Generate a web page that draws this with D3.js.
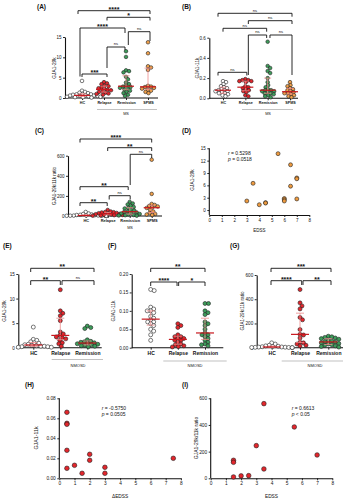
<!DOCTYPE html>
<html>
<head>
<meta charset="utf-8">
<script src="https://cdn.jsdelivr.net/npm/d3@7"></script>
<style>
  body { margin: 0; background: #fff; }
  text { font-family: "Liberation Sans", Arial, sans-serif; fill: #111; }
</style>
</head>
<body>
<script>
// ---------- data ----------
var msGroups = ["HC", "Relapse", "Remission", "SPMS"];
var nmoGroups = ["HC", "Relapse", "Remission"];

// (A) GJA1-29k, MS
var aHC = [4.2, 1.8, 1.5, 1.3, 1.2, 1.0, 0.9, 0.9, 0.8, 0.7, 0.6, 0.6, 0.5, 0.5, 0.4, 0.3, 0.3, 0.2, 0.2, 0.1];
var aRelapse = [3.9, 3.6, 3.4, 3.0, 2.9, 2.6, 2.4, 2.2, 2.0, 1.9, 1.6, 1.5, 1.3, 1.1, 1.0, 0.8];
var aRemission = [11.5, 10.1, 6.8, 6.6, 6.3, 5.2, 4.6, 3.8, 3.4, 3.0, 2.8, 2.7, 2.5, 2.3, 2.1, 1.8, 1.5, 1.2, 0.8, 0.5];
var aSPMS = [13.7, 11.0, 7.8, 7.5, 6.9, 3.0, 2.8, 2.7, 2.5, 2.3, 2.0, 1.8, 1.5, 1.2];

// (B) GJA1-11k, MS
var bHC = [0.17, 0.16, 0.14, 0.12, 0.11, 0.10, 0.09, 0.08, 0.08, 0.07, 0.07, 0.06, 0.05, 0.05, 0.04, 0.03, 0.02];
var bRelapse = [0.19, 0.18, 0.18, 0.17, 0.17, 0.16, 0.12, 0.11, 0.10, 0.09, 0.08, 0.07, 0.06, 0.03, 0.02];
var bRemission = [0.56, 0.32, 0.30, 0.27, 0.25, 0.20, 0.16, 0.13, 0.11, 0.09, 0.08, 0.08, 0.07, 0.07, 0.06, 0.05, 0.05, 0.04, 0.03, 0.02, 0.01];
var bSPMS = [0.16, 0.13, 0.12, 0.10, 0.09, 0.08, 0.07, 0.06, 0.05, 0.05, 0.04, 0.03, 0.02, 0.01];

// (C) GJA1-29k/11k ratio, MS
var cHC = [40, 25, 20, 15, 12, 10, 8, 6, 5, 4, 3, 3, 2, 2, 1, 1, 1];
var cRelapse = [60, 45, 40, 38, 35, 30, 28, 25, 20, 18, 15, 12, 10, 8, 5, 3];
var cRemission = [140, 125, 115, 100, 90, 80, 75, 60, 55, 45, 40, 35, 30, 25, 20, 15, 10, 8, 5, 3];
var cSPMS = [560, 220, 120, 110, 100, 95, 85, 80, 60, 45, 30, 20, 15, 10];

// (D) EDSS vs GJA1-29k (SPMS)
var dEDSS = [3, 3.5, 4, 4.5, 4.5, 5.5, 6, 6, 6, 6.5, 6.5, 7, 7, 7];
var dGJA29 = [2.2, 6.5, 1.3, 1.8, 1.7, 13.7, 2.8, 2.5, 2.2, 11.0, 5.8, 7.8, 7.6, 2.7];

// (E) GJA1-29k, NMOSD
var eHC = [4.2, 1.7, 1.5, 1.2, 1.0, 0.9, 0.7, 0.6, 0.5, 0.4, 0.3, 0.3, 0.2, 0.2, 0.1, 0.1];
var eRelapse = [11.8, 7.5, 7.0, 6.5, 5.5, 3.2, 2.8, 2.5, 2.2, 2.0, 1.8, 1.5, 1.0, 0.8, 0.3];
var eRemission = [4.4, 4.1, 3.9, 1.6, 1.3, 1.2, 1.1, 1.0, 0.9, 0.8, 0.7, 0.6, 0.5, 0.4, 0.3, 0.2];

// (F) GJA1-11k, NMOSD
var fHC = [0.158, 0.155, 0.11, 0.105, 0.10, 0.10, 0.095, 0.085, 0.08, 0.075, 0.07, 0.07, 0.065, 0.06, 0.05, 0.045, 0.035, 0.02];
var fRelapse = [0.065, 0.06, 0.055, 0.035, 0.03, 0.03, 0.025, 0.025, 0.02, 0.02, 0.015, 0.01, 0.008, 0.005, 0.003, 0.002];
var fRemission = [0.12, 0.12, 0.10, 0.095, 0.09, 0.07, 0.065, 0.06, 0.05, 0.04, 0.035, 0.035, 0.03, 0.025, 0.02, 0.015, 0.01, 0.008, 0.005];

// (G) GJA1-29k/11k ratio, NMOSD
var gHC = [40, 30, 20, 15, 12, 10, 8, 6, 5, 4, 3, 2, 2, 1, 1];
var gRelapse = [480, 370, 345, 320, 250, 230, 150, 110, 105, 80, 45, 40, 30, 20, 15];
var gRemission = [95, 90, 85, 80, 75, 70, 60, 55, 50, 45, 40, 35, 30, 25, 20, 15, 10, 5];

// (H) dEDSS vs GJA1-11k
var hDeltaEDSS = [0.5, 0.5, 0.5, 0.5, 0.5, 1, 1.5, 2, 2, 3, 3, 7.5];
var hGJA11 = [0.066, 0.055, 0.054, 0.028, 0.010, 0.013, 0.005, 0.024, 0.018, 0.011, 0.005, 0.020];

// (I) EDSS vs ratio
var iEDSS = [1.5, 1.5, 1.5, 2, 2.5, 3, 3.5, 3.5, 5.5, 7];
var iRatio = [10, 135, 120, 18, 20, 245, 560, 70, 385, 175];

var scatterTicks = [0, 1, 2, 3, 4, 5, 6, 7, 8];

// ---------- drawing ----------
var svg = d3.select("body").append("svg")
    .attr("width", 343)
    .attr("height", 500);

var fills = { HC: "#ffffff", Relapse: "#e3262c", Remission: "#3d9c5a", SPMS: "#f0a04b" };

// simple deterministic beeswarm (points may overlap a little, like the original)
function swarm(vals, y, cx, r) {
  var pts = [];
  vals.slice().sort(d3.descending).forEach(function(v) {
    var py = y(v), k = 0, ox;
    while (true) {
      ox = (k % 2 ? 1 : -1) * Math.ceil(k / 2) * 0.5;
      var ok = pts.every(function(q) {
        var dx = q.x - (cx + ox), dy = q.y - py;
        return dx * dx + dy * dy >= 4 * r * r * 0.72;
      });
      if (ok || k > 80) break;
      k++;
    }
    pts.push({ x: cx + ox, y: py });
  });
  return pts;
}

function styleAxis(sel, fs) {
  sel.select(".domain").attr("stroke", "#111").attr("stroke-width", 1.1);
  sel.selectAll(".tick line").attr("stroke", "#111").attr("stroke-width", 0.9);
  sel.selectAll(".tick text").attr("font-size", fs).attr("fill", "#222");
}

function label(txt, x, y) {
  svg.append("text").attr("x", x).attr("y", y)
    .attr("font-size", 6.5).attr("font-weight", "bold").text(txt);
}

function yTitle(txt, x, y, fs) {
  svg.append("text")
    .attr("transform", "translate(" + x + "," + y + ") rotate(-90)")
    .attr("text-anchor", "middle").attr("font-size", fs).text(txt);
}

function dotPanel(p) {
  var g = svg.append("g");
  var x = d3.scalePoint().domain(p.groups).range(p.xr);
  var y = d3.scaleLinear().domain([0, p.ymax]).range(p.yr);

  g.append("g").attr("transform", "translate(" + p.ax + ",0)")
    .call(d3.axisLeft(y).tickValues(p.ticks).tickFormat(d3.format(p.fmt)).tickSize(2).tickSizeOuter(0).tickPadding(1.5))
    .call(styleAxis, p.tfs);

  var xa = g.append("g").attr("transform", "translate(0," + p.yr[0] + ")")
    .call(d3.axisBottom(x).tickSize(2).tickSizeOuter(0).tickPadding(1.5))
    .call(styleAxis, p.cfs);
  xa.select(".domain").remove();
  xa.selectAll(".tick text").attr("font-weight", "bold");
  g.append("line").attr("x1", p.ax).attr("x2", p.xend)
    .attr("y1", p.yr[0]).attr("y2", p.yr[0])
    .attr("stroke", "#111").attr("stroke-width", 1.1);

  // group line and label
  if (p.gline) {
    g.append("line").attr("x1", p.gline[0]).attr("x2", p.gline[1])
      .attr("y1", p.gline[2]).attr("y2", p.gline[2])
      .attr("stroke", "#999").attr("stroke-width", 0.6);
  }
  g.append("text").attr("x", p.glabel[0]).attr("y", p.glabel[1])
    .attr("text-anchor", "middle").attr("font-size", p.gfs).text(p.gname);

  // points
  p.groups.forEach(function(grp, i) {
    var cx = x(grp);
    var pts = swarm(p.values[i], y, cx, p.r);
    g.selectAll(null).data(pts).enter().append("circle")
      .attr("cx", function(d) { return d.x; })
      .attr("cy", function(d) { return d.y; })
      .attr("r", p.r)
      .attr("fill", fills[grp])
      .attr("stroke", "#222")
      .attr("stroke-width", 0.6);

    var s = p.values[i].slice().sort(d3.ascending);
    var q1 = d3.quantile(s, 0.25), med = d3.quantile(s, 0.5), q3 = d3.quantile(s, 0.75);
    var c = "#ee8a8a";
    g.append("line").attr("x1", cx).attr("x2", cx).attr("y1", y(q1)).attr("y2", y(q3))
      .attr("stroke", c).attr("stroke-width", 0.8);
    [q1, q3].forEach(function(q) {
      g.append("line").attr("x1", cx - p.cap).attr("x2", cx + p.cap)
        .attr("y1", y(q)).attr("y2", y(q)).attr("stroke", c).attr("stroke-width", 0.8);
    });
    g.append("line").attr("x1", cx - p.mw).attr("x2", cx + p.mw)
      .attr("y1", y(med)).attr("y2", y(med))
      .attr("stroke", "#c8161d").attr("stroke-width", 1.2);
  });

  // significance brackets
  p.brackets.forEach(function(b) {
    var x1 = x(b.a) + (b.d1 || 0), x2 = x(b.b) + (b.d2 || 0);
    g.append("path")
      .attr("d", "M" + x1 + "," + b.l1 + "V" + b.y + "H" + x2 + "V" + b.l2)
      .attr("fill", "none").attr("stroke", "#111").attr("stroke-width", 0.9);
    var ns = b.t === "ns";
    g.append("text").attr("x", (x1 + x2) / 2).attr("y", ns ? b.y - 1.6 : b.y + 0.8)
      .attr("text-anchor", "middle")
      .attr("font-size", ns ? 4.2 : 7)
      .attr("font-weight", ns ? "normal" : "bold")
      .attr("fill", ns ? "#444" : "#111")
      .text(b.t);
  });
}

function scatterPanel(p) {
  var g = svg.append("g");
  var x = d3.scaleLinear().domain([0, 8]).range(p.xr);
  var y = d3.scaleLinear().domain(p.yd).range(p.yr);

  var ya = g.append("g").attr("transform", "translate(" + p.xr[0] + ",0)")
    .call(d3.axisLeft(y).tickValues(p.ticks).tickFormat(d3.format(p.fmt)).tickSize(2).tickSizeOuter(0).tickPadding(1.5))
    .call(styleAxis, p.tfs);
  ya.select(".domain").attr("d", "M0," + p.yr[0] + "V" + y(p.ticks[p.ticks.length - 1]));

  g.append("g").attr("transform", "translate(0," + p.yr[0] + ")")
    .call(d3.axisBottom(x).tickValues(scatterTicks).tickSize(2).tickSizeOuter(0).tickPadding(1.5))
    .call(styleAxis, p.tfs);

  g.append("text").attr("x", (p.xr[0] + p.xr[1]) / 2).attr("y", p.xtitleY)
    .attr("text-anchor", "middle").attr("font-size", p.tfs).text(p.xtitle);

  g.selectAll(null).data(p.xs).enter().append("circle")
    .attr("cx", function(d) { return x(d); })
    .attr("cy", function(d, i) { return y(p.ys[i]); })
    .attr("r", p.r)
    .attr("fill", p.fill)
    .attr("stroke", "#222")
    .attr("stroke-width", 0.6);

  var t1 = g.append("text").attr("x", p.stat[0]).attr("y", p.stat[1]).attr("font-size", p.sfs);
  t1.append("tspan").attr("font-style", "italic").text("r");
  t1.append("tspan").text(" = " + p.r_text);
  var t2 = g.append("text").attr("x", p.stat[0]).attr("y", p.stat[1] + p.sfs * 1.3).attr("font-size", p.sfs);
  t2.append("tspan").attr("font-style", "italic").text("p");
  t2.append("tspan").text(p.p_text);
}

// (A)
label("(A)", 37, 9);
yTitle("GJA1-29k", 56, 68, 4.8);
dotPanel({
  groups: msGroups, values: [aHC, aRelapse, aRemission, aSPMS],
  xr: [82, 148], ax: 65, xend: 158, ymax: 15, yr: [98, 37],
  ticks: [0, 5, 10, 15], fmt: "d", tfs: 4.5, cfs: 3.7, r: 1.8, mw: 8, cap: 3.5,
  gline: [97, 157, 109.5], glabel: [126, 115], gname: "MS", gfs: 3.8,
  brackets: [
    { a: "HC", b: "SPMS", y: 10.7, l1: 14, l2: 14, t: "****", d1: -4, d2: 2 },
    { a: "Relapse", b: "SPMS", y: 17.3, l1: 20.5, l2: 20.5, t: "*", d1: 3, d2: 2 },
    { a: "HC", b: "Remission", y: 28, l1: 76.5, l2: 33, t: "****", d1: -2, d2: -1 },
    { a: "Remission", b: "SPMS", y: 31.7, l1: 45, l2: 41, t: "ns", d1: 2.3, d2: 2 },
    { a: "Relapse", b: "Remission", y: 47, l1: 68, l2: 50, t: "ns", d1: 3, d2: -1 },
    { a: "HC", b: "Relapse", y: 74, l1: 77, l2: 77, t: "***", d1: 0, d2: 3 }
  ]
});

// (B)
label("(B)", 182, 9);
yTitle("GJA1-11k", 199, 68, 4.8);
dotPanel({
  groups: msGroups, values: [bHC, bRelapse, bRemission, bSPMS],
  xr: [223, 290], ax: 209.3, xend: 298, ymax: 0.6, yr: [98.3, 37.7],
  ticks: [0, 0.2, 0.4, 0.6], fmt: ".1f", tfs: 4.5, cfs: 3.7, r: 1.8, mw: 8, cap: 3.5,
  gline: [242, 293, 109.5], glabel: [268, 115], gname: "MS", gfs: 3.8,
  brackets: [
    { a: "HC", b: "SPMS", y: 13.3, l1: 16.7, l2: 16.7, t: "ns", d1: -5, d2: 2 },
    { a: "Relapse", b: "SPMS", y: 20.7, l1: 24, l2: 24, t: "ns", d1: 3, d2: 2 },
    { a: "HC", b: "Remission", y: 28.3, l1: 31.7, l2: 31.7, t: "ns", d1: 0, d2: -1 },
    { a: "Relapse", b: "Remission", y: 35, l1: 75, l2: 38, t: "ns", d1: 3, d2: -1 },
    { a: "Remission", b: "SPMS", y: 35, l1: 38, l2: 75, t: "ns", d1: 2.3, d2: 2 },
    { a: "HC", b: "Relapse", y: 72.3, l1: 75.5, l2: 75.5, t: "ns", d1: -5, d2: 1.5 }
  ]
});

// (C)
label("(C)", 35, 133);
yTitle("GJA1-29k/11k ratio", 56, 186, 4.5);
dotPanel({
  groups: msGroups, values: [cHC, cRelapse, cRemission, cSPMS],
  xr: [85.7, 151.7], ax: 68, xend: 162, ymax: 600, yr: [216, 155.7],
  ticks: [0, 200, 400, 600], fmt: "d", tfs: 4.5, cfs: 3.9, r: 1.8, mw: 8, cap: 3.5,
  gline: null, glabel: [130, 229], gname: "MS", gfs: 3.8,
  brackets: [
    { a: "HC", b: "SPMS", y: 139, l1: 142.5, l2: 142.5, t: "****", d1: -5.7, d2: 0 },
    { a: "Relapse", b: "SPMS", y: 147.7, l1: 151, l2: 151, t: "**", d1: 0, d2: 0 },
    { a: "Remission", b: "SPMS", y: 154.3, l1: 185, l2: 158, t: "ns", d1: 0.5, d2: 0 },
    { a: "HC", b: "Remission", y: 186.7, l1: 190, l2: 190, t: "**", d1: -5.7, d2: -1.5 },
    { a: "Relapse", b: "Remission", y: 195.7, l1: 199.5, l2: 199.5, t: "ns", d1: 1.5, d2: 0.5 },
    { a: "HC", b: "Relapse", y: 202.7, l1: 206, l2: 206, t: "**", d1: -5.7, d2: -0.5 }
  ]
});

// (D)
label("(D)", 182, 133);
yTitle("GJA1-29k", 194, 180, 4.8);
scatterPanel({
  xs: dEDSS, ys: dGJA29, xr: [209.3, 309.3], yd: [-1.2, 15], yr: [215, 148.3],
  ticks: [0, 3, 6, 9, 12, 15], fmt: "d", tfs: 4.5, r: 2, fill: "#ee9a3e",
  xtitle: "EDSS", xtitleY: 232, stat: [228, 154.5], sfs: 5,
  r_text: "0.5298", p_text: " =  0.0518"
});

// (E)
label("(E)", 3, 248);
yTitle("GJA1-29k", 6, 311, 4.8);
dotPanel({
  groups: nmoGroups, values: [eHC, eRelapse, eRemission],
  xr: [33.3, 87.3], ax: 18.3, xend: 101.7, ymax: 15, yr: [347.7, 274],
  ticks: [0, 5, 10, 15], fmt: "d", tfs: 4.6, cfs: 5, r: 2, mw: 9, cap: 4,
  gline: [51.7, 103, 359.5], glabel: [78, 366.5], gname: "NMOSD", gfs: 4,
  brackets: [
    { a: "HC", b: "Remission", y: 268.3, l1: 272, l2: 272, t: "**", d1: -2.6, d2: 6.7 },
    { a: "HC", b: "Relapse", y: 280.7, l1: 285, l2: 285, t: "**", d1: -2.6, d2: 0 },
    { a: "Relapse", b: "Remission", y: 280.7, l1: 285, l2: 285, t: "ns", d1: 1.7, d2: 6.7 }
  ]
});

// (F)
label("(F)", 108, 248);
yTitle("GJA1-11k", 115, 311, 4.8);
dotPanel({
  groups: nmoGroups, values: [fHC, fRelapse, fRemission],
  xr: [150.7, 205], ax: 131.7, xend: 223.3, ymax: 0.2, yr: [347.7, 274],
  ticks: [0, 0.05, 0.1, 0.15, 0.2], fmt: ".2f", tfs: 4.6, cfs: 5, r: 2, mw: 9, cap: 4,
  gline: [163.3, 226.7, 361], glabel: [195, 367], gname: "NMOSD", gfs: 4,
  brackets: [
    { a: "HC", b: "Remission", y: 268.3, l1: 272, l2: 272, t: "**", d1: 0, d2: 0 },
    { a: "HC", b: "Relapse", y: 282, l1: 286, l2: 286, t: "****", d1: 0, d2: -0.8 },
    { a: "Relapse", b: "Remission", y: 282, l1: 286, l2: 286, t: "*", d1: 0.8, d2: 0 }
  ]
});

// (G)
label("(G)", 230, 248);
yTitle("GJA1-29k/11k ratio", 244, 311, 4.6);
dotPanel({
  groups: nmoGroups, values: [gHC, gRelapse, gRemission],
  xr: [271.7, 328.3], ax: 256.7, xend: 343, ymax: 600, yr: [347.7, 275],
  ticks: [0, 200, 400, 600], fmt: "d", tfs: 4.6, cfs: 5, r: 2, mw: 9, cap: 4,
  gline: [281.7, 343, 361], glabel: [315, 367], gname: "NMOSD", gfs: 4,
  brackets: [
    { a: "HC", b: "Remission", y: 268.3, l1: 272, l2: 272, t: "***", d1: -0.7, d2: 2.7 },
    { a: "HC", b: "Relapse", y: 280.7, l1: 285, l2: 285, t: "****", d1: -0.7, d2: 1.7 },
    { a: "Relapse", b: "Remission", y: 280.7, l1: 285, l2: 285, t: "**", d1: 3, d2: 2.7 }
  ]
});

// (H)
label("(H)", 25, 387);
yTitle("GJA1-11k", 38, 438, 5.3);
scatterPanel({
  xs: hDeltaEDSS, ys: hGJA11, xr: [59.3, 180.9], yd: [0, 0.08], yr: [478.3, 398.3],
  ticks: [0, 0.02, 0.04, 0.06, 0.08], fmt: ".2f", tfs: 4.8, r: 2.3, fill: "#e3262c",
  xtitle: "\u0394EDSS", xtitleY: 498, stat: [101.7, 409.5], sfs: 5,
  r_text: "-0.5750", p_text: " =  0.0505"
});

// (I)
label("(I)", 182, 387);
yTitle("GJA1-29k/11k ratio", 197.5, 438, 5);
scatterPanel({
  xs: iEDSS, ys: iRatio, xr: [210.7, 332.3], yd: [0, 600], yr: [478.3, 398.3],
  ticks: [0, 200, 400, 600], fmt: "d", tfs: 4.8, r: 2.3, fill: "#e3262c",
  xtitle: "EDSS", xtitleY: 498, stat: [291.7, 409.5], sfs: 5,
  r_text: "0.6613", p_text: " <  0.05"
});
</script>
</body>
</html>
